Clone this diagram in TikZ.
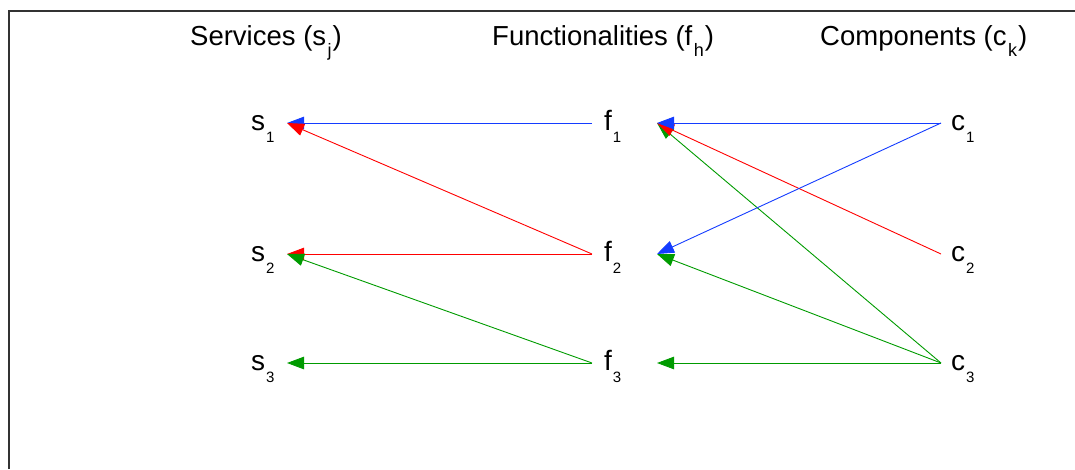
\documentclass[tikz,border=0pt]{standalone}
\usepackage{fontspec}
\setmainfont{Liberation Sans}
\usetikzlibrary{arrows.meta}
\definecolor{eblue}{RGB}{20,60,255}
\definecolor{ered}{RGB}{255,0,0}
\definecolor{egreen}{RGB}{0,155,0}
\newcommand{\lsub}[1]{\kern1pt\raisebox{-12pt}{\fontsize{15}{17}\selectfont #1}}
\newcommand{\hsub}[1]{\kern1.5pt\raisebox{-11pt}{\fontsize{18}{21}\selectfont #1}\kern1pt}
\tikzset{
  lbl/.style={anchor=base west, inner sep=0pt, font=\fontsize{28}{32}\selectfont},
  hdr/.style={anchor=base west, inner sep=0pt, font=\fontsize{27.5}{32}\selectfont},
  conn/.style={line width=0.9pt, -{Triangle[length=17pt,width=12.5pt]}},
  cb/.style={conn, eblue},
  cr/.style={conn, ered},
  cg/.style={conn, egreen},
}
\begin{document}
\begin{tikzpicture}[x=1pt,y=-1pt]
\useasboundingbox (0,0) rectangle (1075,469);
\draw[line width=1.2pt, black!80] (9,469) -- (9,11) -- (1075,11);
% headers
\node[hdr] (hs) at (190,45) {Services (s\hsub{j})};
\node[hdr] (hf) at (492,45) {Functionalities (f\hsub{h})};
\node[hdr] (hc) at (820,45) {Components (c\hsub{k})};
% labels
\node[lbl] (s1) at (251,130) {s\lsub{1}};
\node[lbl] (s2) at (251,261) {s\lsub{2}};
\node[lbl] (s3) at (251,370) {s\lsub{3}};
\node[lbl] (f1) at (604,130) {f\lsub{1}};
\node[lbl] (f2) at (604,261) {f\lsub{2}};
\node[lbl] (f3) at (604,370) {f\lsub{3}};
\node[lbl] (c1) at (951,130) {c\lsub{1}};
\node[lbl] (c2) at (951,261) {c\lsub{2}};
\node[lbl] (c3) at (951,370) {c\lsub{3}};
% connector ends
\coordinate (s1i) at (287,123);
\coordinate (s2i) at (287,254);
\coordinate (s3i) at (287,363);
\coordinate (f1o) at (592,123);
\coordinate (f2o) at (592,254);
\coordinate (f3o) at (592,363);
\coordinate (f1i) at (657,123);
\coordinate (f2i) at (657,254);
\coordinate (f3i) at (657,363);
\coordinate (c1o) at (941,123);
\coordinate (c2o) at (941,254);
\coordinate (c3o) at (941,363);
% services <- functionalities
\draw[cb] (f1o) -- (s1i);
\draw[cr] (f2o) -- (s1i);
\draw[cr] (f2o) -- (s2i);
\draw[cg] (f3o) -- (s2i);
\draw[cg] (f3o) -- (s3i);
% functionalities <- components
\draw[cg] (c3o) -- (f1i);
\draw[cr] (c2o) -- (f1i);
\draw[cb] (c1o) -- (f1i);
\draw[cg] (c3o) -- (f2i);
\draw[cb] (c1o) -- (f2i);
\draw[cg] (c3o) -- (f3i);
\end{tikzpicture}
\end{document}
